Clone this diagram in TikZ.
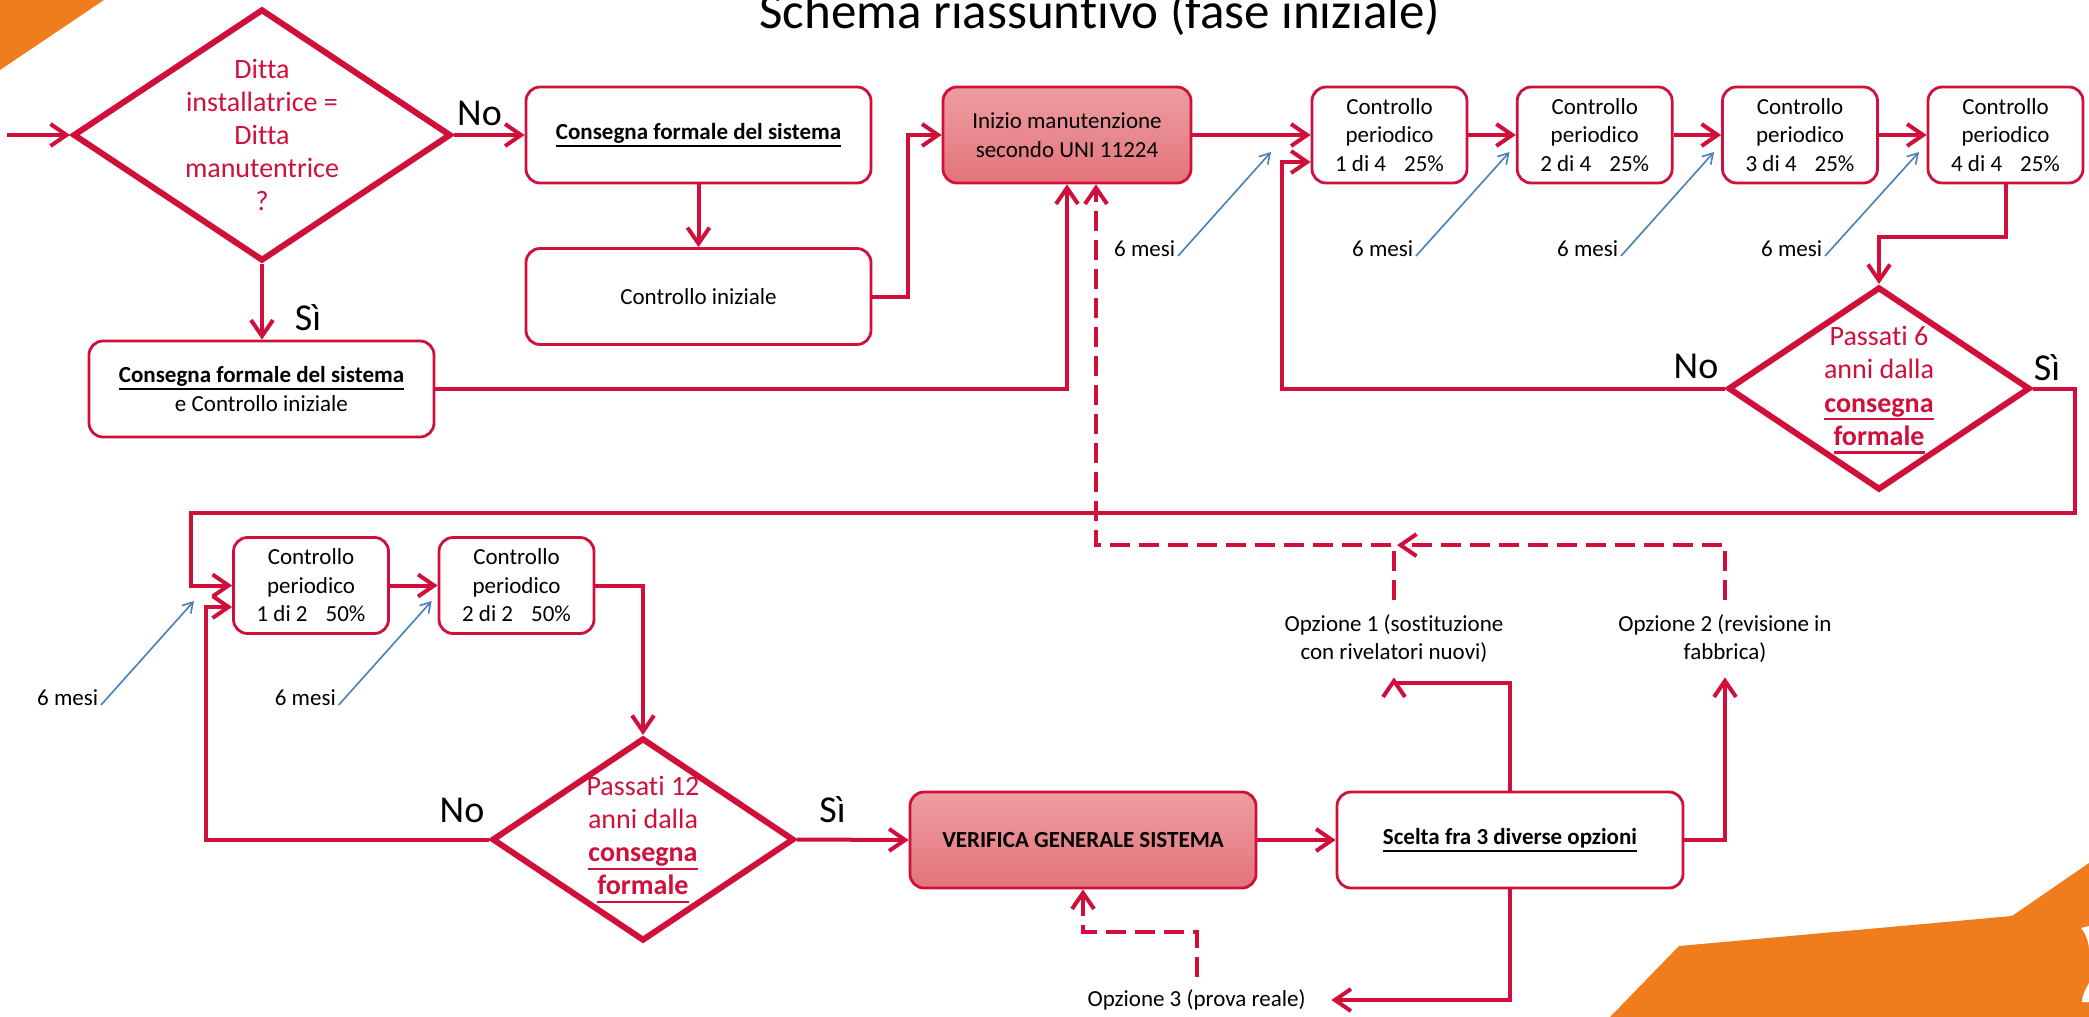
\documentclass[tikz,border=0pt]{standalone}
\usepackage{fontspec}
\setmainfont{Carlito}[Ligatures={NoCommon}]
\usetikzlibrary{arrows.meta,shapes.geometric,calc}
\definecolor{myred}{RGB}{208,16,58}
\definecolor{myblue}{RGB}{74,126,187}
\definecolor{myorange}{RGB}{239,125,30}
\definecolor{pinktop}{RGB}{236,158,162}
\definecolor{pinkbot}{RGB}{227,116,122}
\newsavebox\ulbox
\newcommand\ulin[1]{\sbox\ulbox{#1}\rlap{\rule[-0.3em]{\wd\ulbox}{0.08em}}\usebox\ulbox}
\newcommand\fbody{\fontsize{11.5}{14.25}\selectfont}
\newcommand\fdia{\fontsize{14}{16.6}\selectfont}
\newcommand\fbig{\fontsize{19}{22}\selectfont}
\begin{document}
\begin{tikzpicture}[x=0.5pt,y=-0.5pt,
  conn/.style={draw=myred, line width=2pt, -{Straight Barb[length=8pt,width=11pt]}},
  dconn/.style={conn, dash pattern=on 10pt off 4.5pt},
  bluearrow/.style={draw=myblue, line width=0.8pt, -{Straight Barb[length=5pt,width=6pt]}},
  box/.style={draw=myred, line width=1.4pt, rounded corners=7pt, fill=white, align=center, font=\fbody, inner sep=0pt, minimum height=48pt},
  pbox/.style={box, top color=pinktop, bottom color=pinkbot},
  cbox/.style={box, minimum width=77.5pt},
  wbox/.style={box, minimum width=172.5pt},
  dia/.style={draw=myred, line width=3pt, shape=diamond, inner sep=0pt, fill=white},
  dtext/.style={text=myred, align=center, font=\fdia, inner sep=0pt},
  big/.style={font=\fbig, inner sep=0pt},
  mesi/.style={font=\fbody, inner xsep=1.25pt, inner ysep=0pt},
  opt/.style={font=\fbody, align=center, inner sep=0pt}
]
\useasboundingbox (0,0) rectangle (2089,1017);
% decorations
\fill[myorange] (0,0) -- (104,0) -- (0,70) -- cycle;
\fill[myorange] (1610,1017) -- (1679,946) -- (2012,916) -- (2089,863) -- (2089,1017) -- cycle;
\fill[white] (2081,928) .. controls (2085,932) and (2088,940) .. (2089,948) -- (2089,926) -- cycle;
\fill[white] (2089,983) .. controls (2085,990) and (2082,996) .. (2082,1002) -- (2089,1002) -- cycle;

% title
\node[anchor=base, font=\fontsize{25.5}{30}\selectfont, inner sep=0pt] (title) at (1100,28) {Schema riassuntivo (fase iniziale)};

% top part
\coordinate (start) at (7,135);
\node[dia, minimum width=189pt, minimum height=126pt] (d1) at (262,135) {};
\node[dtext] (d1t) at (d1) {Ditta\\installatrice =\\Ditta\\manutentrice\\?};
\node[wbox] (b1) at (698.5,135) {\textbf{\ulin{Consegna formale del sistema}}};
\node[wbox] (b2) at (698.5,296.5) {Controllo iniziale};
\node[wbox] (b3) at (261.5,389) {\textbf{\ulin{Consegna formale del sistema}}\\e Controllo iniziale};
\node[pbox, minimum width=124pt] (ini) at (1067,135) {Inizio manutenzione\\secondo UNI 11224};
\node[cbox] (c1) at (1389.5,135) {Controllo\\periodico\\1 di 4\hspace{9pt}25\%};
\node[cbox] (c2) at (1594.7,135) {Controllo\\periodico\\2 di 4\hspace{9pt}25\%};
\node[cbox] (c3) at (1800,135) {Controllo\\periodico\\3 di 4\hspace{9pt}25\%};
\node[cbox] (c4) at (2005.5,135) {Controllo\\periodico\\4 di 4\hspace{9pt}25\%};
\node[dia, minimum width=151pt, minimum height=101.5pt] (d2) at (1879,388.5) {};
\node[dtext] (d2t) at (1879,390) {Passati 6\\anni dalla\\\textbf{\ulin{consegna}}\\\textbf{\ulin{formale}}};

% bottom part
\node[cbox] (c1b) at (311,585.5) {Controllo\\periodico\\1 di 2\hspace{9pt}50\%};
\node[cbox] (c2b) at (516.5,585.5) {Controllo\\periodico\\2 di 2\hspace{9pt}50\%};
\node[dia, minimum width=151pt, minimum height=101.5pt] (d3) at (643,839.5) {};
\node[dtext] (d3t) at (643,839.5) {Passati 12\\anni dalla\\\textbf{\ulin{consegna}}\\\textbf{\ulin{formale}}};
\node[pbox, minimum width=173pt] (ver) at (1083,840) {\textbf{VERIFICA GENERALE SISTEMA}};
\node[box, minimum width=173pt] (sce) at (1510,840) {\textbf{\ulin{Scelta fra 3 diverse opzioni}}};
\node[opt, minimum height=38.5pt] (opt1) at (1394,638.5) {Opzione 1 (sostituzione\\con rivelatori nuovi)};
\node[opt, minimum height=38.5pt] (opt2) at (1725,638.5) {Opzione 2 (revisione in\\fabbrica)};
\node[opt, minimum width=134.5pt, minimum height=23pt] (opt3) at (1196.5,1000) {Opzione 3 (prova reale)};

% yes/no labels
\node[big, anchor=base] (no1) at (479.5,125) {No};
\node[big, anchor=base] (si1) at (308,330) {Sì};
\node[big, anchor=base] (no2) at (1696,378) {No};
\node[big, anchor=base] (si2) at (2047,380) {Sì};
\node[big, anchor=base] (no3) at (462,822) {No};
\node[big, anchor=base] (si3) at (832.5,822) {Sì};

% 6 mesi labels
\node[mesi, anchor=base east] (m1) at (1178,256) {6 mesi};
\node[mesi, anchor=base east] (m2) at (1416,256) {6 mesi};
\node[mesi, anchor=base east] (m3) at (1621,256) {6 mesi};
\node[mesi, anchor=base east] (m4) at (1825,256) {6 mesi};
\node[mesi, anchor=base east] (m5) at (101,705) {6 mesi};
\node[mesi, anchor=base east] (m6) at (338.7,705) {6 mesi};
\coordinate (t1) at (1271,152);
\coordinate (t2) at (1509.5,152);
\coordinate (t3) at (1714,152);
\coordinate (t4) at (1919,152);
\coordinate (t5) at (194,601);
\coordinate (t6) at (431.7,601);
\foreach \i in {1,...,6} {\draw[bluearrow] (m\i.base east) -- (t\i);}

% connectors top
\draw[conn] (start) -- (d1.west);
\draw[conn] (d1.east) -- (b1.west);
\draw[conn] (d1.south) -- (d1.south |- b3.north);
\draw[conn] (b1.south) -- (b2.north);
\draw[conn] (b2.east) -- ++(36,0) |- (ini.west);
\draw[conn] (b3.east) -| (ini.south);
\draw[conn] (ini.east) -- (c1.west);
\draw[conn] (c1.east) -- (c2.west);
\draw[conn] (c2.east) -- (c3.west);
\draw[conn] (c3.east) -- (c4.west);
\draw[conn] (c4.south) -- ++(0,53) -| (d2.north);
\draw[conn] (d2.west) -| ($(c1.west)+(-29,27)$) -- ($(c1.west)+(0,27)$);
\draw[conn] (d2.east) -- ++(42,0) |- ($(c1b.west)+(-41.5,-72.5)$) |- (c1b.west);
% connectors bottom
\draw[conn] (c1b.east) -- (c2b.west);
\draw[conn] (c2b.east) -| (d3.north);
\draw[conn] (d3.west) -| ($(c1b.west)+(-26,21.5)$) -- ($(c1b.west)+(0,21.5)$);
\draw[conn] (d3.east) -- (ver.west);
\draw[conn] (ver.east) -- (sce.west);
\draw[conn] (sce.north) -- ++(0,-108) -| (opt1.south);
\draw[conn] (sce.east) -| (opt2.south);
\draw[conn] (sce.south) |- (opt3.east);
% dashed feedback
\coordinate (jn) at ($(opt1.north)+(0,-54.5)$);
\draw[dconn] (opt2.north) |- ($(jn)+(3,0)$);
\draw[dconn] (opt1.north) -- (jn) -| ($(ini.south)+(29,0)$);
\draw[dconn] (opt3.north) -- ++(0,-45) -| (ver.south);
\end{tikzpicture}
\end{document}
